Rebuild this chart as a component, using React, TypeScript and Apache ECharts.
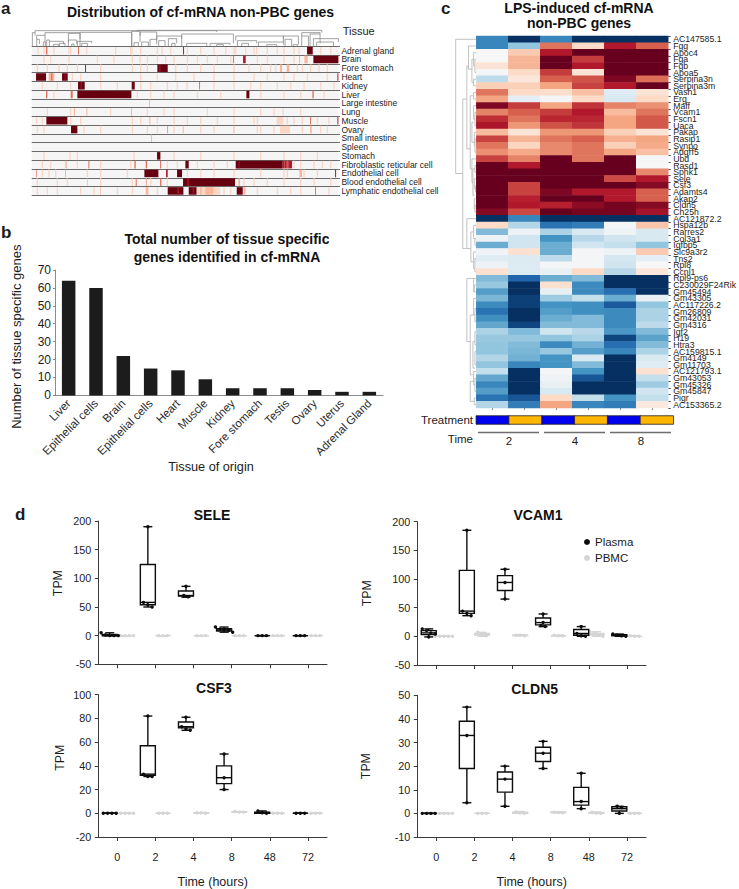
import React, { useEffect, useRef } from "react";
import * as echarts from "echarts";

const FONT = '"Liberation Sans", Arial, sans-serif';
const INK = "#1c1c1c";

// ---------- panel a ----------
const tissues = ["Adrenal gland", "Brain", "Fore stomach", "Heart", "Kidney", "Liver", "Large intestine", "Lung", "Muscle", "Ovary", "Small intestine", "Spleen", "Stomach", "Fibroblastic reticular cell", "Endothelial cell", "Blood endothelial cell", "Lymphatic endothelial cell"];
const redsPalette = ["#f5f5f5", "#fcd6c5", "#fbb59a", "#e2705a", "#b2182b", "#67000f"];
// [row, gene start, gene end, level]
const tissueBlocks: number[][] = [
  [0, 921, 938, 5], [0, 138, 142, 3], [0, 234, 237, 3], [0, 549, 552, 4],
  [1, 940, 1015, 5], [1, 729, 737, 4], [1, 699, 702, 3], [1, 897, 900, 2], [1, 913, 923, 2],
  [2, 472, 503, 5], [2, 478, 481, 4], [2, 255, 258, 4], [2, 840, 846, 2], [2, 860, 868, 2],
  [3, 108, 138, 5], [3, 186, 203, 5], [3, 194, 196, 4], [3, 146, 163, 2], [3, 153, 157, 3], [3, 1012, 1015, 4],
  [4, 234, 254, 5], [4, 242, 245, 4], [4, 395, 404, 5], [4, 597, 600, 3], [4, 560, 562, 2],
  [5, 232, 394, 5], [5, 739, 748, 5], [5, 138, 142, 3], [5, 212, 218, 3], [5, 937, 941, 3],
  [6, 447, 450, 2],
  [7, 222, 225, 2], [7, 259, 262, 2], [7, 393, 396, 2], [7, 848, 850, 2],
  [8, 139, 202, 5], [8, 1012, 1015, 4], [8, 930, 933, 3], [8, 448, 451, 2], [8, 830, 850, 1],
  [9, 213, 232, 5], [9, 502, 504, 3], [9, 700, 703, 2], [9, 548, 551, 2], [9, 840, 870, 1], [9, 930, 935, 2],
  [10, 453, 456, 2],
  [12, 471, 481, 5], [12, 208, 212, 1],
  [13, 707, 848, 5], [13, 716, 718, 4], [13, 848, 866, 4], [13, 852, 853, 2], [13, 860, 862, 2], [13, 866, 876, 4], [13, 556, 566, 5], [13, 437, 441, 3], [13, 403, 407, 3], [13, 265, 268, 3], [13, 196, 200, 2], [13, 480, 483, 3],
  [14, 433, 475, 5], [14, 531, 546, 5], [14, 498, 503, 4], [14, 108, 110, 3], [14, 1005, 1008, 4], [14, 195, 198, 2], [14, 898, 906, 2],
  [15, 549, 705, 5], [15, 562, 566, 4], [15, 480, 484, 3], [15, 262, 264, 2], [15, 407, 410, 3], [15, 437, 441, 2], [15, 715, 720, 2],
  [16, 503, 550, 5], [16, 532, 536, 4], [16, 566, 590, 5], [16, 578, 581, 4], [16, 710, 728, 5], [16, 590, 660, 1], [16, 600, 605, 2], [16, 616, 640, 2], [16, 945, 948, 3], [16, 437, 445, 2], [16, 300, 302, 2], [16, 730, 736, 2],
];
// faint single-gene stripes by row
const tissueStripes: number[][] = [
  [112, 130, 160, 205, 210, 258, 345, 390, 394, 420, 470, 484, 510, 560, 600, 640, 675, 700, 705, 735, 760, 768, 800, 830, 850, 880, 895, 960, 990],
  [130, 150, 205, 290, 340, 395, 418, 440, 470, 495, 520, 560, 590, 620, 650, 690, 770, 800, 850, 880],
  [110, 140, 175, 200, 230, 300, 395, 420, 440, 525, 560, 600, 640, 700, 745, 780, 810, 825, 890, 905, 930, 955, 980],
  [215, 240, 300, 420, 470, 525, 580, 640, 700, 760, 800, 850, 880, 920, 980],
  [125, 170, 210, 300, 350, 420, 450, 500, 530, 640, 700, 750, 780, 830, 870, 910, 960, 1000],
  [160, 410, 450, 490, 520, 590, 660, 780, 850, 900, 970],
  [],
  [140, 210, 330, 440, 490, 520, 620, 700, 780, 820, 900],
  [108, 125, 210, 240, 395, 420, 470, 520, 560, 600, 650, 700, 760, 770, 860, 880, 905, 950, 985],
  [110, 130, 250, 300, 395, 440, 470, 520, 600, 640, 770, 780, 820, 905, 960, 980],
  [],
  [],
  [130, 230, 400, 520, 600, 700, 780, 850, 900, 950],
  [125, 150, 230, 300, 390, 500, 530, 590, 640, 680, 880, 900, 940, 965, 990],
  [125, 145, 165, 260, 300, 380, 560, 600, 640, 700, 780, 850, 860, 910, 950],
  [110, 170, 200, 300, 395, 450, 500, 730, 760, 800, 850, 900, 940, 990],
  [110, 140, 170, 240, 280, 350, 395, 470, 670, 690, 770, 830, 870, 900, 985],
];
// [left leaf x, left h, right leaf x, right h, merge h]
const tissueTree: number[][] = [
  [105, 40, 650, 42, 46], [97, 0, 105, 32, 40], [110, 20, 135, 12, 32], [110, 0, 118, 6, 20], [130, 0, 136, 0, 12],
  [135, 32, 240, 38, 40], [140, 0, 148, 14, 18], [148, 0, 190, 5, 14], [160, 0, 175, 0, 5], [178, 0, 195, 0, 8],
  [205, 12, 240, 20, 38], [205, 0, 230, 6, 18], [215, 0, 222, 0, 6], [232, 0, 275, 8, 14], [245, 0, 262, 0, 8],
  [240, 0, 395, 0, 41], [410, 44, 965, 40, 47], [395, 0, 420, 30, 44], [402, 0, 415, 0, 10], [420, 12, 470, 20, 42],
  [425, 0, 445, 0, 12], [450, 0, 470, 5, 20], [470, 16, 545, 22, 30], [476, 0, 495, 0, 16], [505, 0, 530, 8, 22],
  [515, 0, 525, 0, 8], [545, 0, 700, 8, 36], [560, 0, 620, 0, 8], [630, 0, 690, 4, 8], [650, 0, 670, 0, 4],
  [707, 16, 850, 12, 30], [712, 0, 770, 8, 16], [725, 0, 745, 0, 8], [775, 0, 850, 4, 12], [800, 0, 830, 0, 4],
  [850, 20, 895, 4, 30], [855, 0, 875, 0, 20], [880, 0, 892, 0, 4], [905, 30, 960, 36, 40], [905, 0, 925, 0, 30],
  [930, 0, 960, 8, 36], [940, 0, 1015, 12, 22], [950, 0, 1000, 0, 12],
];

// ---------- panel b ----------
const originCategories = ["Liver", "Epithelial cells", "Brain", "Epithelial cells ", "Heart", "Muscle", "Kidney", "Fore stomach", "Testis", "Ovary", "Uterus", "Adrenal Gland"];
const originCounts = [64, 60, 22, 15, 14, 9, 4, 4, 4, 3, 2, 2];

// ---------- panel c ----------
const lpsGenes = ["AC147585.1", "Fgg", "Apoc4", "Fga", "Fgb", "Apoa5", "Serpina3n", "Serpina3m", "Vash1", "Erg", "Maff", "Vcam1", "Fscn1", "Uaca", "Pakap", "Rasip1", "Synpo", "Adgrf5", "Ubd", "Rasd1", "Sphk1", "Sele", "Csf3", "Adamts4", "Akap2", "Cldn5", "Ch25h", "AC121872.2", "Hspa12b", "Rarres2", "Col3a1", "Igfbp5", "Slc9a3r2", "Tns2", "Rpl8", "Ccnl1", "Rpl9-ps6", "C230029F24Rik", "Gm45494", "Gm43305", "AC117226.2", "Gm26809", "Gm42031", "Gm4316", "Igf2", "H19", "Htra3", "AC159815.1", "Gm4149", "Gm11703", "AC121793.1", "Gm43053", "Gm45326", "Gm45847", "Pigr", "AC153365.2"];
const lpsColumns = ["2-a", "2-b", "4-a", "4-b", "8-a", "8-b"];
const lpsValues: number[][] = [
  [-3.3, -5, -3.3, -5, -5, -5], [-3.3, -2, 2.7, 1, 4, 3], [0, 1.3, 4, 5, 5, 5], [0, 1.7, 5, 3.5, 5, 5], [0.7, 1.7, 5, 4, 5, 5], [-0.1, 1, 3.5, 0.7, 5, 5],
  [-1.3, 0.6, 3, 3.2, 4.7, 2.8], [1.2, 1.2, 2, 3.4, 4, 5], [2.7, 1, 0.9, 1.5, -0.6, 0.7], [2, -0.5, -0.1, 1, -0.8, 1], [4.7, 3.5, 2, 3.6, 2.5, 2.3], [2.5, 3, 3.5, 4, 1.6, 2.7],
  [3.7, 2.7, 3.8, 3.8, 2, 3.1], [4.1, 2.2, 3.2, 3.6, 2, 3.1], [1.6, 0.7, 2.2, 2.2, 1.2, 0.7], [3.4, 1.7, 2.7, 3, 1.8, 2], [2.7, 1.1, 2.4, 2.7, 1.2, 1.9], [2.3, 1.9, 2.4, 2.7, 2, 1.5],
  [3.4, 2.5, 5, 2.7, 5, -0.1], [5, 4, 5, 5, 5, 0], [5, 5, 5, 5, 5, 2.4], [5, 5, 5, 5, 3.3, 4], [5, 3.4, 5, 5, 5, 4.6], [5, 3.4, 4.7, 4, 4, 3],
  [5, 3.9, 5, 5, 4, 3], [5, 4, 3.9, 4.5, 4.8, 4.6], [4.6, 3.3, 5, 4.8, 4.8, 4.2], [-5, -3.3, -5, -5, -5, -5], [1, -1.5, -3.7, -3.5, -0.1, 1.4], [-2.2, -0.3, -1.6, -0.8, -0.2, -0.8],
  [-0.3, -1, -3, -1.4, -1, -0.8], [-2.5, -1, -2.5, -1, -1.2, -2], [-0.2, 0.8, -2.5, -0.1, -0.3, 1.3], [-0.6, -0.7, -1.3, -0.1, -0.9, -0.5], [-0.3, -0.7, -0.1, -0.1, -1, 0], [0.8, -0.7, -0.4, 1, -1.4, 0.6],
  [-2.2, -4, -2.5, -2.2, -5, -5], [-1.9, -5, 0.8, -3.2, -5, -5], [-2.8, -5, -0.4, -3.2, -3.8, -5], [-2.3, -4.7, -1.8, -1.2, -2.5, -0.4], [-3.2, -4.7, -3, -3.1, -4.2, -2], [-3.7, -5, -2.8, -3.1, -3.2, -1.6],
  [-3.1, -5, -2.5, -2.2, -3.2, -1.6], [-2.6, -4.6, -2.2, -2.2, -3.2, -1.3], [-1.6, -2.2, -1, -1.4, -2.9, -2.2], [-1.9, -1.9, -2, -1.6, -4.6, -2.7], [-2, -2.2, -3.2, -2.4, -3.8, -2.2], [-2, -2.3, -1.9, -2.8, -3.3, -1.6],
  [-1.5, -2.4, -3, -0.8, -5, -0.8], [-2, -3.3, -3, -2.2, -5, -0.6], [-1.2, -5, -0.1, -3, -5, 0.8], [-2.6, -5, -0.2, -4.3, -5, -1.2], [-3.3, -5, -0.4, -5, -5, -1.8], [-2.8, -5, -0.8, -5, -5, -1],
  [-3.7, -4.3, 1, -1.2, -3, -1.2], [-1.5, -3.5, 2, -3.3, -3.5, 0.5],
];
const rdbuPalette = ["#053061", "#2166ac", "#4393c3", "#92c5de", "#d1e5f0", "#f7f7f7", "#fddbc7", "#f4a582", "#d6604d", "#b2182b", "#67001f"];
const treatmentValues = [0, 1, 0, 1, 0, 1];
// [row a, depth a, row b, depth b, merge depth]
const lpsTree: number[][] = [
  [0.5, 108, 20.7, 68, 47], [9.5, 80, 32, 80, 68], [4.5, 85, 17, 90, 80], [1.5, 108, 5, 95, 85], [3.5, 100, 7, 100, 95],
  [2.5, 108, 4.5, 104, 100], [3.5, 108, 5.5, 108, 104], [6.5, 108, 7.5, 108, 100], [9, 100, 20, 95, 90], [8.5, 108, 9.5, 108, 100],
  [13, 100, 16, 102, 95], [10.5, 108, 12.5, 104, 100], [11.5, 108, 13.5, 108, 104], [14.5, 108, 16.5, 104, 102], [15.5, 108, 17.5, 108, 104],
  [22, 98, 18.5, 108, 95], [20, 104, 24, 102, 98], [19.5, 108, 20.5, 108, 104], [21.5, 108, 23, 106, 102], [22.5, 108, 23.5, 108, 106], [24.5, 108, 26, 104, 102], [25.5, 108, 26.5, 108, 104],
  [27.5, 108, 32, 92, 80], [29.5, 100, 34, 100, 92], [28.5, 108, 30.5, 104, 100], [30.5, 108, 31.5, 108, 104], [32.5, 108, 35, 104, 100], [33.5, 108, 35.5, 108, 104],
  [36.5, 100, 46, 90, 80], [36.5, 108, 38.5, 102, 100], [37.5, 108, 38.5, 108, 102], [42, 100, 51, 98, 90], [39.5, 108, 42, 104, 100], [41, 108, 43, 108, 104],
  [46, 104, 50, 104, 98], [44.5, 108, 46.5, 108, 104], [47.5, 108, 49.5, 108, 104], [52, 100, 55, 102, 90], [50.5, 108, 52.5, 104, 100], [51.5, 108, 53.5, 108, 104], [54.5, 108, 55.5, 108, 102],
];

// ---------- panel d ----------
const hours = ["0", "2", "4", "8", "48", "72"];
// five numbers per time: min, q1, median, q3, max
const seleBoxPlasma = [[0, 0, 0, 2, 5], [50, 54, 58, 124, 190], [67, 69, 70, 78, 86], [6, 8, 10, 12, 15], [0, 0, 0, 0, 0], [0, 0, 0, 0, 0]];
const seleBoxPbmc = [[0, 0, 0, 0, 0], [0, 0, 0, 0, 0], [0, 0, 0, 0, 0], [0, 0, 0, 0, 0], [0, 0, 0, 0, 0], [0, 0, 0, 0, 0]];
const seleDotsPlasma = [[0, 0, 0, 1, 5], [190, 58, 54, 50], [86, 70, 68], [15, 11, 10, 9, 6], [0, 0, 0], [0, 0, 0]];
const seleDotsPbmc = [[0, 0, 0, 0, 0], [0, 0, 0], [0, 0, 0], [0, 0, 0], [0, 0, 0], [0, 0, 0]];

const vcamBoxPlasma = [[-1, 3, 6, 10, 13], [36, 40, 44, 115, 185], [65, 80, 94, 106, 117], [17, 20, 24, 32, 39], [0, 2, 5, 12, 17], [0, 1, 2, 3, 4]];
const vcamBoxPbmc = [[0, 0, 0, 0, 0], [0, 2, 3, 5, 7], [1, 1, 2, 2, 3], [1, 1, 1, 1, 2], [0, 2, 3, 5, 8], [0, 0, 0, 0, 1]];
const vcamDotsPlasma = [[-1, 4, 6, 10, 13], [185, 44, 40, 36], [117, 94, 65], [39, 24, 17, 19], [17, 5, 1, 0], [4, 2, 1, 0]];
const vcamDotsPbmc = [[0, 0, 0, 0, 0], [7, 3, 1], [2, 2, 1], [1, 1, 2], [8, 5, 2, 0], [1, 0, 0]];

const csfBoxPlasma = [[0, 0, 0, 0, 0], [31, 32, 33, 57, 82], [70, 72, 73, 77, 81], [20, 25, 30, 40, 50], [0, 0, 0.5, 1, 2], [0, 0, 0, 0, 0]];
const csfBoxPbmc = [[0, 0, 0, 0, 0], [0, 0, 0, 0, 0], [0, 0, 0.3, 0.5, 0.6], [0.8, 1, 1, 1.3, 1.5], [0, 0, 0, 0, 0], [0, 0, 0, 0, 0]];
const csfDotsPlasma = [[0, 0, 0, 0], [82, 33, 31, 31], [81, 73, 71, 70], [50, 30, 20], [2, 0.5, 0], [0, 0, 0]];
const csfDotsPbmc = [[0, 0, 0, 0, 0], [0, 0, 0], [0.5, 0.4, 0], [1, 1.5, 1], [0, 0, 0], [0, 0, 0]];

const cldnBoxPlasma = [[0, 0, 0, 0, 0], [4.5, 19, 33, 39, 45], [3, 9, 14.5, 17.5, 20], [19, 22, 25.5, 28, 30.5], [2, 3.5, 5, 11, 17], [0, 1, 2, 2.8, 3]];
const cldnBoxPbmc = [[0, 0, 0, 0, 0], [0, 0, 0, 0, 0], [0, 0, 0.2, 0.5, 0.8], [0.3, 0.3, 0.4, 0.6, 0.7], [0, 0, 0.1, 0.4, 0.6], [0, 0, 0, 0, 0]];
const cldnDotsPlasma = [[0, 0, 0, 0], [45, 33, 4.5], [20, 14.5, 3], [30.5, 25.5, 19], [17, 5, 2], [3, 2.5, 0]];
const cldnDotsPbmc = [[0, 0, 0, 0, 0], [0, 0, 0], [0.6, 0.3, 0], [0.5, 0.4, 0.3], [0.5, 0.2, 0], [0, 0, 0]];

const panels = [
  { title: "SELE", titleX: 212, left: 98.3, top: 521, height: 143.3, min: -50, max: 200, step: 50, labels: false, nameGap: 34, namePad: 19, plasma: seleBoxPlasma, pbmc: seleBoxPbmc, dp: seleDotsPlasma, dq: seleDotsPbmc },
  { title: "VCAM1", titleX: 538, left: 417.3, top: 521.7, height: 143.3, min: -50, max: 200, step: 50, labels: false, nameGap: 44, namePad: 0, plasma: vcamBoxPlasma, pbmc: vcamBoxPbmc, dp: vcamDotsPlasma, dq: vcamDotsPbmc },
  { title: "CSF3", titleX: 214, left: 98.3, top: 694.7, height: 143, min: -20, max: 100, step: 20, labels: true, nameGap: 32, namePad: 16, plasma: csfBoxPlasma, pbmc: csfBoxPbmc, dp: csfDotsPlasma, dq: csfDotsPbmc },
  { title: "CLDN5", titleX: 534.7, left: 417.3, top: 695.3, height: 143, min: -10, max: 50, step: 10, labels: true, nameGap: 45, namePad: 0, plasma: cldnBoxPlasma, pbmc: cldnBoxPbmc, dp: cldnDotsPlasma, dq: cldnDotsPbmc },
];

const PLASMA = "#0d0d0d";
const PBMC = "#d4d4d4";

function boxSeries(name: string, xi: number, boxes: number[][], dots: number[][], side: number, color: string) {
  return {
    type: "custom",
    name,
    xAxisIndex: xi,
    yAxisIndex: xi,
    z: side < 0 ? 3 : 2,
    itemStyle: { color },
    encode: { x: 0, y: [1, 2, 3, 4, 5] },
    data: boxes.map((b, i) => [i, ...b]),
    renderItem: (params: any, api: any) => {
      const i = params.dataIndex;
      const b = boxes[i];
      const band = api.size([1, 0])[0];
      const cx = api.coord([i, 0])[0] + side * band * 0.2;
      const y = (v: number) => api.coord([i, v])[1];
      const hw = 7.5;
      const cap = 4.5;
      const lw = side < 0 ? 1.4 : 1.3;
      const line = (x1: number, y1: number, x2: number, y2: number) => ({
        type: "line",
        shape: { x1, y1, x2, y2 },
        style: { stroke: color, lineWidth: lw },
      });
      const children: any[] = [
        line(cx, y(b[0]), cx, y(b[4])),
        line(cx - cap, y(b[0]), cx + cap, y(b[0])),
        line(cx - cap, y(b[4]), cx + cap, y(b[4])),
        {
          type: "rect",
          shape: { x: cx - hw, y: y(b[3]), width: hw * 2, height: y(b[1]) - y(b[3]) },
          style: { fill: side < 0 ? "#fff" : color, stroke: color, lineWidth: lw },
        },
        line(cx - hw, y(b[2]), cx + hw, y(b[2])),
      ];
      const ys = dots[i].map(y).sort((p, q) => p - q);
      let s = 0;
      while (s < ys.length) {
        let e = s;
        while (e + 1 < ys.length && ys[e + 1] - ys[e] < 2.4) e++;
        const n = e - s + 1;
        for (let k = 0; k < n; k++) {
          children.push({
            type: "circle",
            shape: { cx: cx + (k - (n - 1) / 2) * 4.3, cy: ys[s + k], r: 1.7 },
            style: { fill: color },
          });
        }
        s = e + 1;
      }
      return { type: "group", children };
    },
  };
}

function treeLinesA(params: any, api: any) {
  const [a, h1, b, h2, top] = tissueTree[params.dataIndex];
  const p = (x: number, h: number) => api.coord([x, h]);
  const st = { stroke: "#8a8a8a", lineWidth: 0.8, fill: "none" };
  const A = p(a, h1), B = p(a, top), C = p(b, top), D = p(b, h2);
  return { type: "polyline", shape: { points: [A, B, C, D] }, style: st };
}
function treeLinesC(params: any, api: any) {
  const [r1, d1, r2, d2, m] = lpsTree[params.dataIndex];
  const p = (d: number, r: number) => api.coord([d, r]);
  return {
    type: "polyline",
    shape: { points: [p(d1, r1), p(m, r1), p(m, r2), p(d2, r2)] },
    style: { stroke: "#b3b3b3", lineWidth: 0.8, fill: "none" },
  };
}

const axisLabel = { fontFamily: FONT, color: INK };

function buildOption(): any {
  const grid: any[] = [
    { left: 31.7, top: 30, width: 306.7, height: 16 },
    { left: 31.7, top: 46.3, width: 306.7, height: 149, show: true, backgroundColor: redsPalette[0], borderWidth: 0 },
    { left: 55, top: 270, width: 328, height: 125.4 },
    { left: 455.7, top: 36, width: 20.6, height: 372 },
    { left: 476.3, top: 36, width: 197, height: 372 },
    { left: 476.3, top: 416, width: 197, height: 8 },
    ...panels.map((p) => ({ left: p.left, top: p.top, width: 228.7, height: p.height })),
  ];
  const hiddenValue = (min: number, max: number, gridIndex: number, inverse = false) => ({
    type: "value", gridIndex, min, max, inverse, show: false,
  });
  const xAxis: any[] = [
    hiddenValue(95, 1015, 0),
    hiddenValue(95, 1015, 1),
    {
      type: "category", gridIndex: 2, data: originCategories,
      axisLine: { lineStyle: { color: "#8c8c8c", width: 1 } },
      axisTick: { show: false },
      axisLabel: { ...axisLabel, fontSize: 11.5, rotate: 45, interval: 0, margin: 6, color: "#2a2a2a", formatter: (v: string) => v.trim() },
      name: "Tissue of origin", nameLocation: "middle", nameGap: 59,
      nameTextStyle: { fontFamily: FONT, fontSize: 12.7, color: INK, padding: [0, 16, 0, 0] },
    },
    hiddenValue(47, 108, 3),
    {
      type: "category", gridIndex: 4, data: lpsColumns,
      axisLine: { show: false },
      axisTick: { show: true, length: 2, lineStyle: { color: "#888" }, alignWithLabel: true },
      axisLabel: { show: false },
    },
    { type: "category", gridIndex: 5, data: lpsColumns, show: false },
    ...panels.map((p, i) => ({
      type: "category", gridIndex: 6 + i, data: hours,
      axisLine: { onZero: false, lineStyle: { color: "#3a3a3a", width: 1 } },
      axisTick: { show: true, alignWithLabel: true, length: 4, lineStyle: { color: "#3a3a3a" } },
      axisLabel: { show: p.labels, ...axisLabel, fontSize: 10.8, margin: 14 },
      name: p.labels ? "Time (hours)" : "", nameLocation: "middle", nameGap: 38,
      nameTextStyle: { fontFamily: FONT, fontSize: 12.5, color: INK },
    })),
  ];
  const yAxis: any[] = [
    hiddenValue(0, 48, 0),
    {
      type: "category", gridIndex: 1, data: tissues, inverse: true, position: "right",
      axisLine: { show: false },
      axisTick: { show: true, length: 1.5, lineStyle: { color: "#555" } },
      axisLabel: { ...axisLabel, fontSize: 8.5, interval: 0, margin: 3 },
      splitLine: { show: true, interval: 0, lineStyle: { color: "#6a6a6a", width: 1 } },
    },
    {
      type: "value", gridIndex: 2, min: 0, max: 70, interval: 10,
      axisLine: { show: true, lineStyle: { color: "#8c8c8c" } },
      axisTick: { show: true, length: 2, lineStyle: { color: "#8c8c8c" } },
      axisLabel: { ...axisLabel, fontSize: 12, margin: 4 },
      splitLine: { show: false },
      name: "Number of tissue specific genes", nameLocation: "middle", nameGap: 32, nameRotate: 90,
      nameTextStyle: { fontFamily: FONT, fontSize: 13, color: INK, padding: [0, 8, 0, 0] },
    },
    hiddenValue(0, 56, 3, true),
    {
      type: "category", gridIndex: 4, data: lpsGenes, inverse: true, position: "right",
      axisLine: { show: false },
      axisTick: { show: true, length: 2.5, lineStyle: { color: "#555" } },
      axisLabel: { ...axisLabel, fontSize: 8.7, interval: 0, margin: 5 },
    },
    { type: "category", gridIndex: 5, data: ["Treatment"], show: false },
    ...panels.map((p, i) => ({
      type: "value", gridIndex: 6 + i, min: p.min, max: p.max, interval: p.step,
      axisLine: { show: true, onZero: false, lineStyle: { color: "#3a3a3a", width: 1 } },
      axisTick: { show: true, length: 3.5, lineStyle: { color: "#3a3a3a" } },
      axisLabel: { ...axisLabel, fontSize: 10.8, margin: 7 },
      splitLine: { show: false },
      name: "TPM", nameLocation: "middle", nameGap: p.nameGap, nameRotate: 90,
      nameTextStyle: { fontFamily: FONT, fontSize: 12.3, color: INK, padding: [0, 0, 0, p.namePad] },
    })),
  ];

  const heatData: number[][] = [];
  lpsValues.forEach((row, r) => row.forEach((v, c) => heatData.push([c, r, v])));

  const series: any[] = [
    {
      type: "custom", name: "tissue dendrogram", xAxisIndex: 0, yAxisIndex: 0, silent: true,
      data: tissueTree.map((t) => [t[0], t[4]]),
      renderItem: treeLinesA,
    },
    {
      type: "custom", name: "tissue expression", xAxisIndex: 1, yAxisIndex: 1, silent: true,
      data: [
        ...tissueStripes.flatMap((list, r) => list.map((x) => [r, x, x + 4, 1])),
        ...tissueBlocks,
      ],
      encode: { x: [1, 2], y: 0 },
      renderItem: (_: any, api: any) => {
        const r = api.value(0);
        const s = api.coord([api.value(1), r]);
        const e = api.coord([api.value(2), r]);
        const h = api.size([0, 1])[1];
        return {
          type: "rect",
          shape: { x: s[0], y: s[1] - h / 2 + 0.6, width: e[0] - s[0], height: h - 1.2 },
          style: { fill: redsPalette[api.value(3)] },
        };
      },
    },
    {
      type: "bar", name: "Tissue specific genes", xAxisIndex: 2, yAxisIndex: 2, data: originCounts, barWidth: 13.5,
      itemStyle: { color: "#1c1c1c" },
    },
    {
      type: "custom", name: "gene dendrogram", xAxisIndex: 3, yAxisIndex: 3, silent: true,
      data: lpsTree.map((t) => [t[4], t[0]]),
      renderItem: treeLinesC,
    },
    {
      type: "heatmap", name: "LPS response", xAxisIndex: 4, yAxisIndex: 4, data: heatData,
      progressive: 0,
    },
    {
      type: "heatmap", name: "Treatment", xAxisIndex: 5, yAxisIndex: 5,
      data: treatmentValues.map((v, i) => [i, 0, v]),
      itemStyle: { borderColor: "#222", borderWidth: 0.8 },
    },
    ...panels.flatMap((p, i) => [
      boxSeries("PBMC", 6 + i, p.pbmc, p.dq, 1, PBMC),
      boxSeries("Plasma", 6 + i, p.plasma, p.dp, -1, PLASMA),
    ]),
  ];

  const label = (text: string, x: number, y: number, font: string, align = "left") => ({
    type: "text", x, y,
    style: { text, font, fill: INK, textAlign: align, verticalAlign: "middle" },
  });
  const bracket = (x1: number, x2: number) => ({
    type: "line", shape: { x1, y1: 432.5, x2, y2: 432.5 }, style: { stroke: "#6e6e6e", lineWidth: 1.4 },
  });
  const letter = `bold 17px ${FONT}`;

  const titleStyle = (lineHeight: number) => ({ fontFamily: FONT, fontWeight: "bold", fontSize: 14, color: "#111", lineHeight });

  return {
    animation: false,
    backgroundColor: "#fff",
    title: [
      { text: "Distribution of cf-mRNA non-PBC genes", left: 200.5, top: 3.5, padding: 0, textAlign: "center", textStyle: titleStyle(17) },
      { text: "Total number of tissue specific\ngenes identified in cf-mRNA", left: 227, top: 230, padding: 0, textAlign: "center", textStyle: titleStyle(18) },
      { text: "LPS-induced cf-mRNA\nnon-PBC genes", left: 579, top: 0, padding: 0, textAlign: "center", textStyle: titleStyle(15) },
      ...panels.map((p) => ({
        text: p.title, left: p.titleX, top: p.top - 15, padding: 0, textAlign: "center", textStyle: titleStyle(17),
      })),
    ],
    grid, xAxis, yAxis, series,
    visualMap: [
      { show: false, type: "continuous", seriesIndex: 4, min: -5, max: 5, inRange: { color: rdbuPalette } },
      { show: false, type: "piecewise", seriesIndex: 5, pieces: [{ value: 0, color: "#0000f0" }, { value: 1, color: "#ffb600" }] },
    ],
    legend: {
      orient: "vertical", left: 579, top: 531, itemWidth: 6, itemHeight: 6, itemGap: 4, icon: "circle",
      data: ["Plasma", "PBMC"], selectedMode: false,
      textStyle: { fontFamily: FONT, fontSize: 11.5, color: INK },
    },
    graphic: [
      label("a", 1, 8, letter),
      label("b", 1, 232, letter),
      label("c", 441, 8, letter),
      label("d", 15, 514, letter),
      label("Tissue", 342.7, 31, `11px ${FONT}`),
      label("Treatment", 473, 420, `11.5px ${FONT}`, "right"),
      label("Time", 473, 439, `11.5px ${FONT}`, "right"),
      label("2", 509, 441, `11.5px ${FONT}`, "center"),
      label("4", 575, 441, `11.5px ${FONT}`, "center"),
      label("8", 641, 441, `11.5px ${FONT}`, "center"),
      bracket(478, 539),
      bracket(544, 605),
      bracket(610, 671),
    ],
  };
}

export default function App() {
  const ref = useRef<HTMLDivElement>(null);
  useEffect(() => {
    const chart = echarts.init(ref.current!, undefined, { renderer: "svg" });
    chart.setOption(buildOption());
    return () => chart.dispose();
  }, []);
  return <div ref={ref} style={{ position: "absolute", left: 0, top: 0, width: 739, height: 889 }} />;
}
